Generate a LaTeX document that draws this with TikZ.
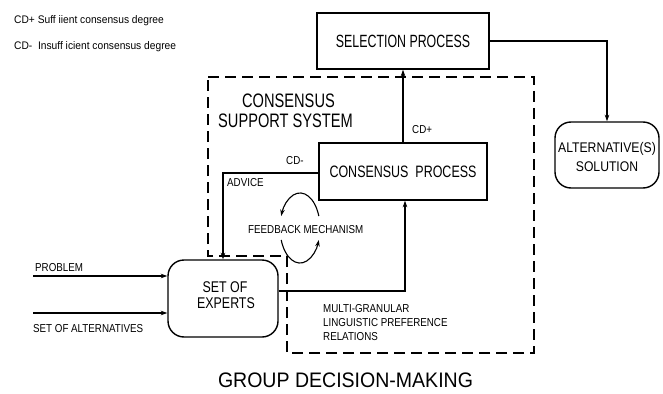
\documentclass[tikz,border=0pt]{standalone}
\usepackage{fontspec}
\setmainfont{Liberation Sans}
\usetikzlibrary{arrows.meta}
\newcommand\sqz[2]{\scalebox{#1}[1]{#2}}
\newcommand\fsz[1]{\fontsize{#1}{#1}\selectfont}
\tikzset{
  arr/.style={line width=1.1pt,-{Stealth[length=6.5pt,width=4.5pt]}},
  plainbox/.style={draw,line width=1.4pt,inner sep=0pt},
  roundbox/.style={draw,line width=1.4pt,inner sep=0pt,rounded corners=16pt},
  small/.style={inner sep=0pt,anchor=base west,font=\fsz{11.5}},
  mid/.style={inner sep=0pt,anchor=base},
  zone/.style={line width=1.3pt,dash pattern=on 11pt off 6pt},
}
\begin{document}
\begin{tikzpicture}[x=1pt,y=-1pt]
\useasboundingbox (0,0) rectangle (663,393);

% legend
\node[small,font=\fsz{11}] (leg1) at (14,24) {\sqz{0.93}{CD+ Suff iient consensus degree}};
\node[small,font=\fsz{11}] (leg2) at (14,50) {\sqz{0.93}{CD-\ \ Insuff icient consensus degree}};

% consensus support system boundary
\draw[zone] (208,77) -- (534,77) -- (534,353) -- (287,353) -- (287,256) -- (208,256) -- cycle;

% boxes
\node[plainbox,minimum width=172pt,minimum height=56pt,font=\fsz{17.7}] (sel) at (403,41)
  {\sqz{0.70}{SELECTION PROCESS}};
\node[plainbox,minimum width=168pt,minimum height=57pt,font=\fsz{16.5}] (cons) at (403,171.5)
  {\sqz{0.756}{CONSENSUS\ \ PROCESS}};
\node[roundbox,minimum width=110pt,minimum height=77pt] (experts) at (223,298.5) {};
\node[mid,font=\fsz{15.5}] (exp1) at (225,292) {\sqz{0.8}{SET OF}};
\node[mid,font=\fsz{15.5}] (exp2) at (226,308) {\sqz{0.8}{EXPERTS}};
\node[roundbox,minimum width=104pt,minimum height=66pt] (alt) at (607,155) {};
\node[mid,font=\fsz{14}] (alt1) at (607,152) {\sqz{0.87}{ALTERNATIVE(S)}};
\node[mid,font=\fsz{14}] (alt2) at (607,171) {\sqz{0.87}{SOLUTION}};

% titles
\node[mid,font=\fsz{19.5}] (css1) at (288.5,107) {\sqz{0.75}{CONSENSUS}};
\node[mid,font=\fsz{19.5}] (css2) at (285.5,127) {\sqz{0.75}{SUPPORT SYSTEM}};
\node[mid,font=\fsz{21}] (gdm) at (345.5,387) {\sqz{0.93}{GROUP DECISION-MAKING}};

% inputs
\coordinate (p0) at (33,276);
\coordinate (a0) at (33,313);
\draw[arr] (p0) -- (p0 -| experts.west);
\draw[arr] (a0) -- (a0 -| experts.west);
\node[small] (lprob) at (35,271) {\sqz{0.85}{PROBLEM}};
\node[small] (lalts) at (33,332) {\sqz{0.85}{SET OF ALTERNATIVES}};

% flows
\draw[arr] (cons) -- (sel);
\draw[arr] (sel.east) -| (alt.north);
\draw[arr] ([yshift=-1.5pt]cons.west) -| (experts.north);
\draw[arr] ([yshift=7.5pt]experts.east) -| ([xshift=2pt]cons.south);

% flow labels
\node[small] (lcdp) at (412,133) {\sqz{0.85}{CD+}};
\node[small] (lcdm) at (286,164) {\sqz{0.85}{CD-}};
\node[small] (ladv) at (227,186) {\sqz{0.85}{ADVICE}};
\node[small] (lfb) at (248,233) {\sqz{0.85}{FEEDBACK MECHANISM}};
\node[small] (lm1) at (323,312) {\sqz{0.85}{MULTI-GRANULAR}};
\node[small] (lm2) at (323,326) {\sqz{0.85}{LINGUISTIC PREFERENCE}};
\node[small] (lm3) at (323,340) {\sqz{0.85}{RELATIONS}};

% feedback loop
\draw[arr] (318.8,216) arc[start angle=20,end angle=160,x radius=20pt,y radius=35pt];
\draw[arr] (281.2,240) arc[start angle=200,end angle=340,x radius=20pt,y radius=35pt];
\end{tikzpicture}
\end{document}
